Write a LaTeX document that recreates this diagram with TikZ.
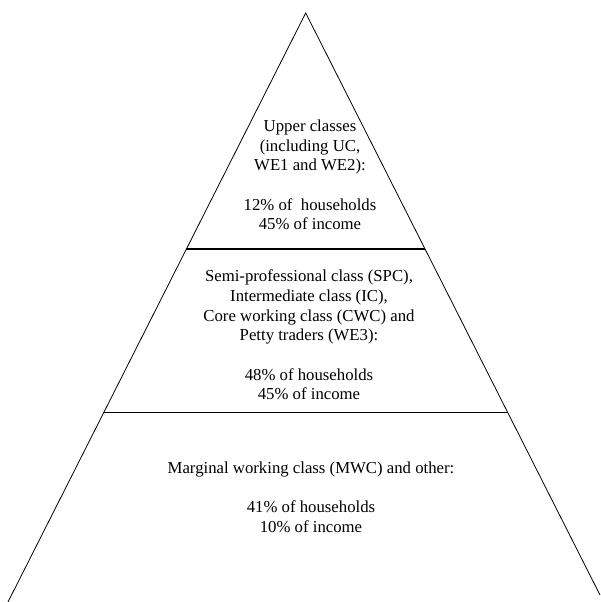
\documentclass[tikz,border=0pt]{standalone}
\usepackage{fontspec}
\setmainfont{Liberation Serif}
\usetikzlibrary{calc}

\begin{document}
\begin{tikzpicture}[
    x=1pt, y=-1pt,
    layer/.style={align=center, inner sep=0pt,
                  font=\fontsize{16.75}{19.7}\selectfont},
    side/.style={draw=black, line width=0.8pt},
    divider/.style={draw=black, line width=1.1pt},
  ]
    \useasboundingbox (0,0) rectangle (600,602);

    % pyramid outline
    \coordinate (APEX) at (305.7,13);
    \coordinate (BL) at (8,602);
    \coordinate (BR) at (600,595);
    \draw[side] (BL) -- (APEX) -- (BR);

    % dividers
    \coordinate (UL) at ($(APEX)!0.4007!(BL)$);
    \coordinate (UR) at ($(APEX)!0.4055!(BR)$);
    \coordinate (LL) at ($(APEX)!0.6790!(BL)$);
    \coordinate (LR) at ($(APEX)!0.6873!(BR)$);
    \draw[divider] (UL) -- (UL -| UR);
    \draw[divider] (LL) -- (LL -| LR);

    % Upper classes
    \node[layer] (UPPER) at (310,175) {
      Upper classes\\
      (including UC,\\
      WE1 and WE2):\\[19.7pt]
      12\% of~ households\\
      45\% of income
    };

    % Middle classes
    \node[layer] (MIDDLE) at (309,335) {
      Semi-professional class (SPC),\\
      Intermediate class (IC),\\
      Core working class (CWC) and\\
      Petty traders (WE3):\\[19.7pt]
      48\% of households\\
      45\% of income
    };

    % Marginal classes
    \node[layer] (LOWER) at (311,497) {
      Marginal working class (MWC) and other:\\[19.7pt]
      41\% of households\\
      10\% of income
    };
  \end{tikzpicture}
\end{document}
